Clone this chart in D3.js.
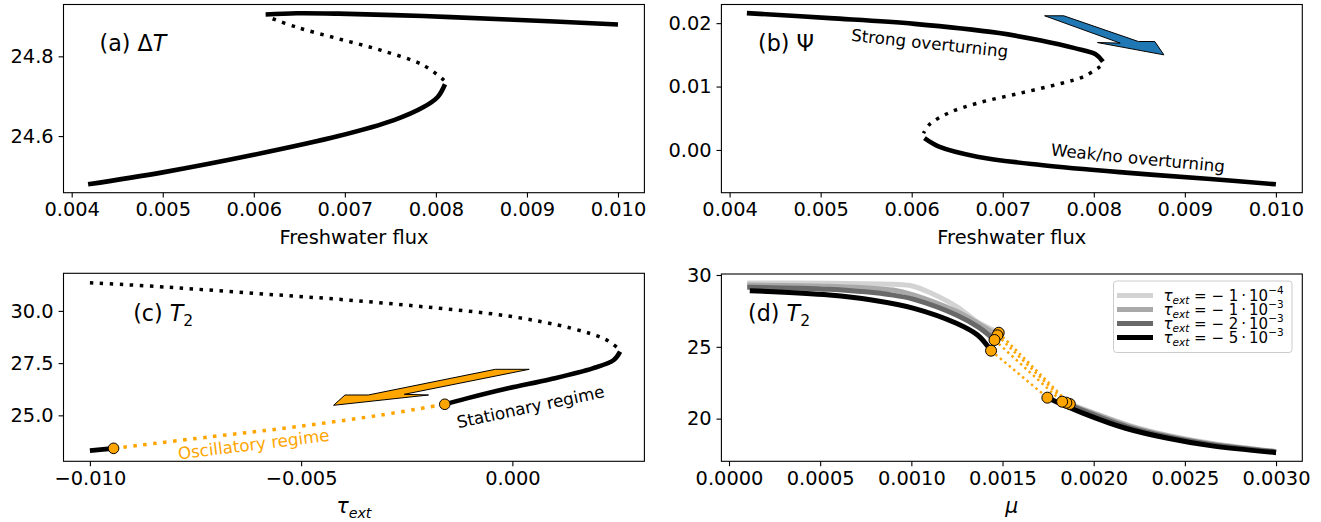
<!DOCTYPE html>
<html><head><meta charset="utf-8">
<script src="https://cdn.jsdelivr.net/npm/d3@7"></script>
<style>body{margin:0;background:#fff} svg text{font-family:"DejaVu Sans",sans-serif;white-space:pre}</style>
</head><body><svg id="c" width="1321" height="522"></svg>
<script>
// ---------- DATA ----------
// panel (a) ΔT vs freshwater flux
const aLowerX=[0.00418,0.00500,0.00600,0.00693,0.00754,0.00786,0.00802,0.00810];
const aLowerY=[24.479,24.509,24.553,24.600,24.640,24.672,24.698,24.730];
const aUnstX=[0.00809,0.00786,0.00740,0.00693,0.00647,0.00614];
const aUnstY=[24.740,24.778,24.815,24.844,24.873,24.900];
const aUpperX=[0.00613,0.00647,0.00693,0.00786,0.00879,0.01000];
const aUpperY=[24.905,24.908,24.907,24.901,24.8925,24.880];
// panel (b) Ψ vs freshwater flux
const bUpperX=[0.00419,0.00510,0.00603,0.00696,0.00742,0.00779,0.00802,0.00810];
const bUpperY=[0.02158,0.02079,0.01989,0.01843,0.01726,0.01606,0.01511,0.01394];
const bUnstX=[0.00807,0.00789,0.00765,0.00719,0.00672,0.00640,0.00619,0.00613];
const bUnstY=[0.01315,0.01157,0.01053,0.00895,0.00737,0.00580,0.00395,0.00264];
const bLowerX=[0.00614,0.00630,0.00672,0.00742,0.00835,0.00928,0.01000];
const bLowerY=[0.00185,0.00052,-0.00106,-0.00237,-0.00358,-0.00458,-0.00542];
// panel (c) T2 vs tau_ext
const cUnstX=[-0.01000,-0.00812,-0.00612,-0.00411,-0.00211,-0.00010,0.00140,0.00220,0.00250];
const cUnstY=[31.35,31.13,30.84,30.555,30.20,29.755,29.167,28.64,28.21];
const cStatX=[0.00255,0.00240,0.00190,0.00090,-0.00010,-0.00110,-0.00160];
const cStatY=[28.05,27.65,27.25,26.73,26.295,25.80,25.53];
const cOscX=[-0.00944,-0.00712,-0.00511,-0.00311,-0.00160];
const cOscY=[23.42,23.98,24.456,25.016,25.53];
const cLeftX=[-0.01000,-0.00944];
const cLeftY=[23.31,23.42];
const cHopfX=[-0.00944,-0.00160];
const cHopfY=[23.42,25.53];
// panel (d) T2 vs mu, four tau_ext values
const dLabels=[["1","4"],["1","3"],["2","3"],["5","3"]];
const dUpX=[
 [0.0001,0.00055,0.0009,0.00101,0.00111,0.00125,0.00136,0.001479],
 [0.0001,0.00055,0.0009,0.00101,0.00125,0.00137,0.001472],
 [0.0001,0.00055,0.0009,0.00101,0.00125,0.00137,0.001456],
 [0.000114,0.00055,0.000783,0.001014,0.001247,0.001363,0.001437]];
const dUpY=[
 [29.45,29.42,29.35,29.22,28.73,27.79,26.75,25.98],
 [29.30,29.22,28.95,28.62,27.45,26.60,25.80],
 [29.15,29.00,28.60,28.32,27.20,26.35,25.475],
 [28.91,28.61,28.26,27.68,26.64,25.82,24.73]];
const dLoX=[
 [0.001869,0.00197,0.0022,0.00243,0.00266,0.0030],
 [0.00185,0.00196,0.00219,0.00242,0.00265,0.0030],
 [0.001827,0.00195,0.00218,0.00241,0.00264,0.0030],
 [0.001746,0.001944,0.002175,0.002407,0.00264,0.0030]];
const dLoY=[
 [21.02,20.55,19.52,18.78,18.26,17.72],
 [21.11,20.55,19.50,18.76,18.24,17.70],
 [21.18,20.52,19.45,18.72,18.20,17.68],
 [21.46,20.37,19.33,18.63,18.12,17.63]];
// arrows (annotation polygons, data coords)
const bArrowX=[0.00746,0.00767,0.00849,0.00867,0.00877,0.00804,0.00829];
const bArrowY=[0.02116,0.02116,0.01710,0.01710,0.01500,0.01694,0.01685];
const cArrowX=[-0.000404,-0.00341,-0.003962,-0.004232,-0.001985,-0.002558,0.000398];
const cArrowY=[27.204,25.974,25.974,25.481,25.974,26.007,27.204];
// ticks
const abTickX=[0.004,0.005,0.006,0.007,0.008,0.009,0.010];
const abTickXL=["0.004","0.005","0.006","0.007","0.008","0.009","0.010"];
const aTickY=[24.6,24.8], aTickYL=["24.6","24.8"];
const bTickY=[0.00,0.01,0.02], bTickYL=["0.00","0.01","0.02"];
const cTickX=[-0.010,-0.005,0.000], cTickXL=["\u22120.010","\u22120.005","0.000"];
const cTickY=[25,27.5,30], cTickYL=["25.0","27.5","30.0"];
const dTickX=[0,0.0005,0.001,0.0015,0.002,0.0025,0.003];
const dTickXL=["0.0000","0.0005","0.0010","0.0015","0.0020","0.0025","0.0030"];
const dTickY=[20,25,30], dTickYL=["20","25","30"];

// ---------- DRAW ----------
const svg=d3.select("#c");
const FS=19.4, AFS=22.2, TFS=16.7;
const zip=(X,Y)=>X.map((x,i)=>[x,Y[i]]);

function panel(box,xd,yd){
  return {box, x:d3.scaleLinear().domain(xd).range([box.l,box.r]), y:d3.scaleLinear().domain(yd).range([box.b,box.t])};
}
const A=panel({l:63.5,r:644.4,t:4.5,b:192.7},[0.00391,0.01029],[24.458,24.93]);
const B=panel({l:721.4,r:1302.3,t:4.5,b:192.7},[0.00391,0.01029],[-0.00674,0.02294]);
const C=panel({l:63.5,r:644.4,t:273.3,b:461.3},[-0.010625,0.003125],[22.8,31.8]);
const D=panel({l:721.4,r:1302.3,t:274,b:461.3},[-0.0000417,0.003144],[17.03,30.07]);

function axes(p,xt,xl,yt,yl){
  const g=svg.append("g");
  g.append("g").attr("transform",`translate(0,${p.box.b})`)
   .call(d3.axisBottom(p.x).tickValues(xt).tickFormat((d,i)=>xl[i]).tickSize(4.9).tickPadding(4.9));
  g.append("g").attr("transform",`translate(${p.box.l},0)`)
   .call(d3.axisLeft(p.y).tickValues(yt).tickFormat((d,i)=>yl[i]).tickSize(4.9).tickPadding(4.9));
  g.selectAll(".domain").remove();
  g.selectAll(".tick line").attr("stroke","#000").attr("stroke-width",1.1);
  g.selectAll(".tick text").attr("font-size",FS).attr("font-family","DejaVu Sans").attr("fill","#000");
}
function frame(p){
  svg.append("rect").attr("x",p.box.l).attr("y",p.box.t).attr("width",p.box.r-p.box.l).attr("height",p.box.b-p.box.t)
    .attr("fill","none").attr("stroke","#000").attr("stroke-width",1.1);
}
function line(p,pts,color,w,dash){
  const path=svg.append("path").datum(pts)
    .attr("d",d3.line().x(d=>p.x(d[0])).y(d=>p.y(d[1])).curve(d3.curveCatmullRom.alpha(0.5)))
    .attr("fill","none").attr("stroke",color).attr("stroke-width",w);
  if(dash) path.attr("stroke-dasharray",dash);
  return path;
}
function poly(p,X,Y,fill){
  svg.append("path").datum(zip(X,Y))
    .attr("d",d3.line().x(d=>p.x(d[0])).y(d=>p.y(d[1]))(zip(X,Y))+"Z")
    .attr("fill",fill).attr("stroke","#000").attr("stroke-width",1);
}
function marker(p,x,y,r){
  svg.append("circle").attr("cx",p.x(x)).attr("cy",p.y(y)).attr("r",r)
    .attr("fill","#ffa500").attr("stroke","#000").attr("stroke-width",1);
}
function mtext(g,x,y,parts,fs,anchor){
  const t=g.append("text").attr("x",x).attr("y",y).attr("font-size",fs).attr("fill","#000");
  if(anchor) t.attr("text-anchor",anchor);
  let shift=0;
  parts.forEach(q=>{
    const target=q.sub?fs*0.24:(q.sup?-fs*0.42:0);
    const ts=t.append("tspan").text(q.t).attr("dy",target-shift);
    if(q.sub||q.sup) ts.attr("font-size",fs*0.7);
    if(q.i) ts.attr("font-style","italic");
    shift=target;
  });
  return t;
}
function rtext(p,x,y,str,ang,color){
  svg.append("text").attr("transform",`translate(${p.x(x)},${p.y(y)}) rotate(${ang})`)
    .attr("text-anchor","middle").attr("dominant-baseline","central")
    .attr("font-size",TFS).attr("fill",color).text(str);
}
const dotted="3.5,6.5";

// ---- panel a ----
axes(A,abTickX,abTickXL,aTickY,aTickYL);
line(A,zip(aLowerX,aLowerY),"#000",4.6);
line(A,zip(aUnstX,aUnstY),"#000",3.5,dotted);
line(A,zip(aUpperX,aUpperY),"#000",4.6);
frame(A);
mtext(svg,A.box.l+0.062*(A.box.r-A.box.l),51,[{t:"(a) Δ"},{t:"T",i:1}],AFS);
mtext(svg,(A.box.l+A.box.r)/2,244,[{t:"Freshwater flux"}],FS,"middle");

// ---- panel b ----
axes(B,abTickX,abTickXL,bTickY,bTickYL);
line(B,zip(bUpperX,bUpperY),"#000",4.6);
line(B,zip(bUnstX,bUnstY),"#000",3.5,dotted);
line(B,zip(bLowerX,bLowerY),"#000",4.6);
poly(B,bArrowX,bArrowY,"#1f77b4");
frame(B);
mtext(svg,B.box.l+0.063*(B.box.r-B.box.l),51,[{t:"(b) Ψ"}],AFS);
mtext(svg,(B.box.l+B.box.r)/2,244,[{t:"Freshwater flux"}],FS,"middle");
rtext(B,0.006198,0.016846,"Strong overturning",6,"#000");
rtext(B,0.008485,-0.00126,"Weak/no overturning",5.5,"#000");

// ---- panel c ----
axes(C,cTickX,cTickXL,cTickY,cTickYL);
line(C,zip(cUnstX,cUnstY),"#000",3.5,dotted);
line(C,zip(cStatX,cStatY),"#000",4.6);
line(C,zip(cLeftX,cLeftY),"#000",4.6);
line(C,zip(cOscX,cOscY),"#ffa500",3.5,dotted);
zip(cHopfX,cHopfY).forEach(d=>marker(C,d[0],d[1],5.3));
poly(C,cArrowX,cArrowY,"#ffa500");
frame(C);
mtext(svg,C.box.l+0.12*(C.box.r-C.box.l),321,[{t:"(c) "},{t:"T",i:1},{t:"2",sub:1}],AFS);
mtext(svg,(C.box.l+C.box.r)/2,513,[{t:"τ",i:1},{t:"ext",i:1,sub:1}],FS*1.05,"middle");
rtext(C,0.000429,25.414,"Stationary regime",-12,"#000");
rtext(C,-0.006125,23.62,"Oscillatory regime",-7,"#ffa500");

// ---- panel d ----
axes(D,dTickX,dTickXL,dTickY,dTickYL);
const dColors=["#d3d3d3","#a9a9a9","#696969","#000000"];
for(let k=0;k<4;k++){
  line(D,zip(dUpX[k],dUpY[k]),dColors[k],5);
  line(D,zip(dLoX[k],dLoY[k]),dColors[k],5);
}
for(let k=0;k<4;k++){
  const u=dUpX[k].length-1;
  line(D,[[dUpX[k][u],dUpY[k][u]],[dLoX[k][0],dLoY[k][0]]],"#ffa500",2.5,"2.4,3.4");
}
for(let k=0;k<4;k++){
  const u=dUpX[k].length-1;
  marker(D,dUpX[k][u],dUpY[k][u],5.5);
  marker(D,dLoX[k][0],dLoY[k][0],5.5);
}
frame(D);
mtext(svg,D.box.l+0.046*(D.box.r-D.box.l),321,[{t:"(d) "},{t:"T",i:1},{t:"2",sub:1}],AFS);
mtext(svg,(D.box.l+D.box.r)/2,513,[{t:"μ",i:1}],FS*1.05,"middle");
// legend
const lg=svg.append("g");
lg.append("rect").attr("x",1113.5).attr("y",281).attr("width",178.5).attr("height",71.5).attr("rx",3)
  .attr("fill","#fff").attr("fill-opacity",0.8).attr("stroke","#cccccc").attr("stroke-width",1);
dLabels.forEach((lab,k)=>{
  const cy=295.5+k*14;
  lg.append("line").attr("x1",1117).attr("x2",1153).attr("y1",cy).attr("y2",cy)
    .attr("stroke",dColors[k]).attr("stroke-width",5);
  mtext(lg,1163.5,cy+5,[{t:"τ",i:1},{t:"ext",i:1,sub:1},{t:" = − "+lab[0]+"\u2009·\u200910"},{t:"−"+lab[1],sup:1}],15);
});
</script></body></html>
